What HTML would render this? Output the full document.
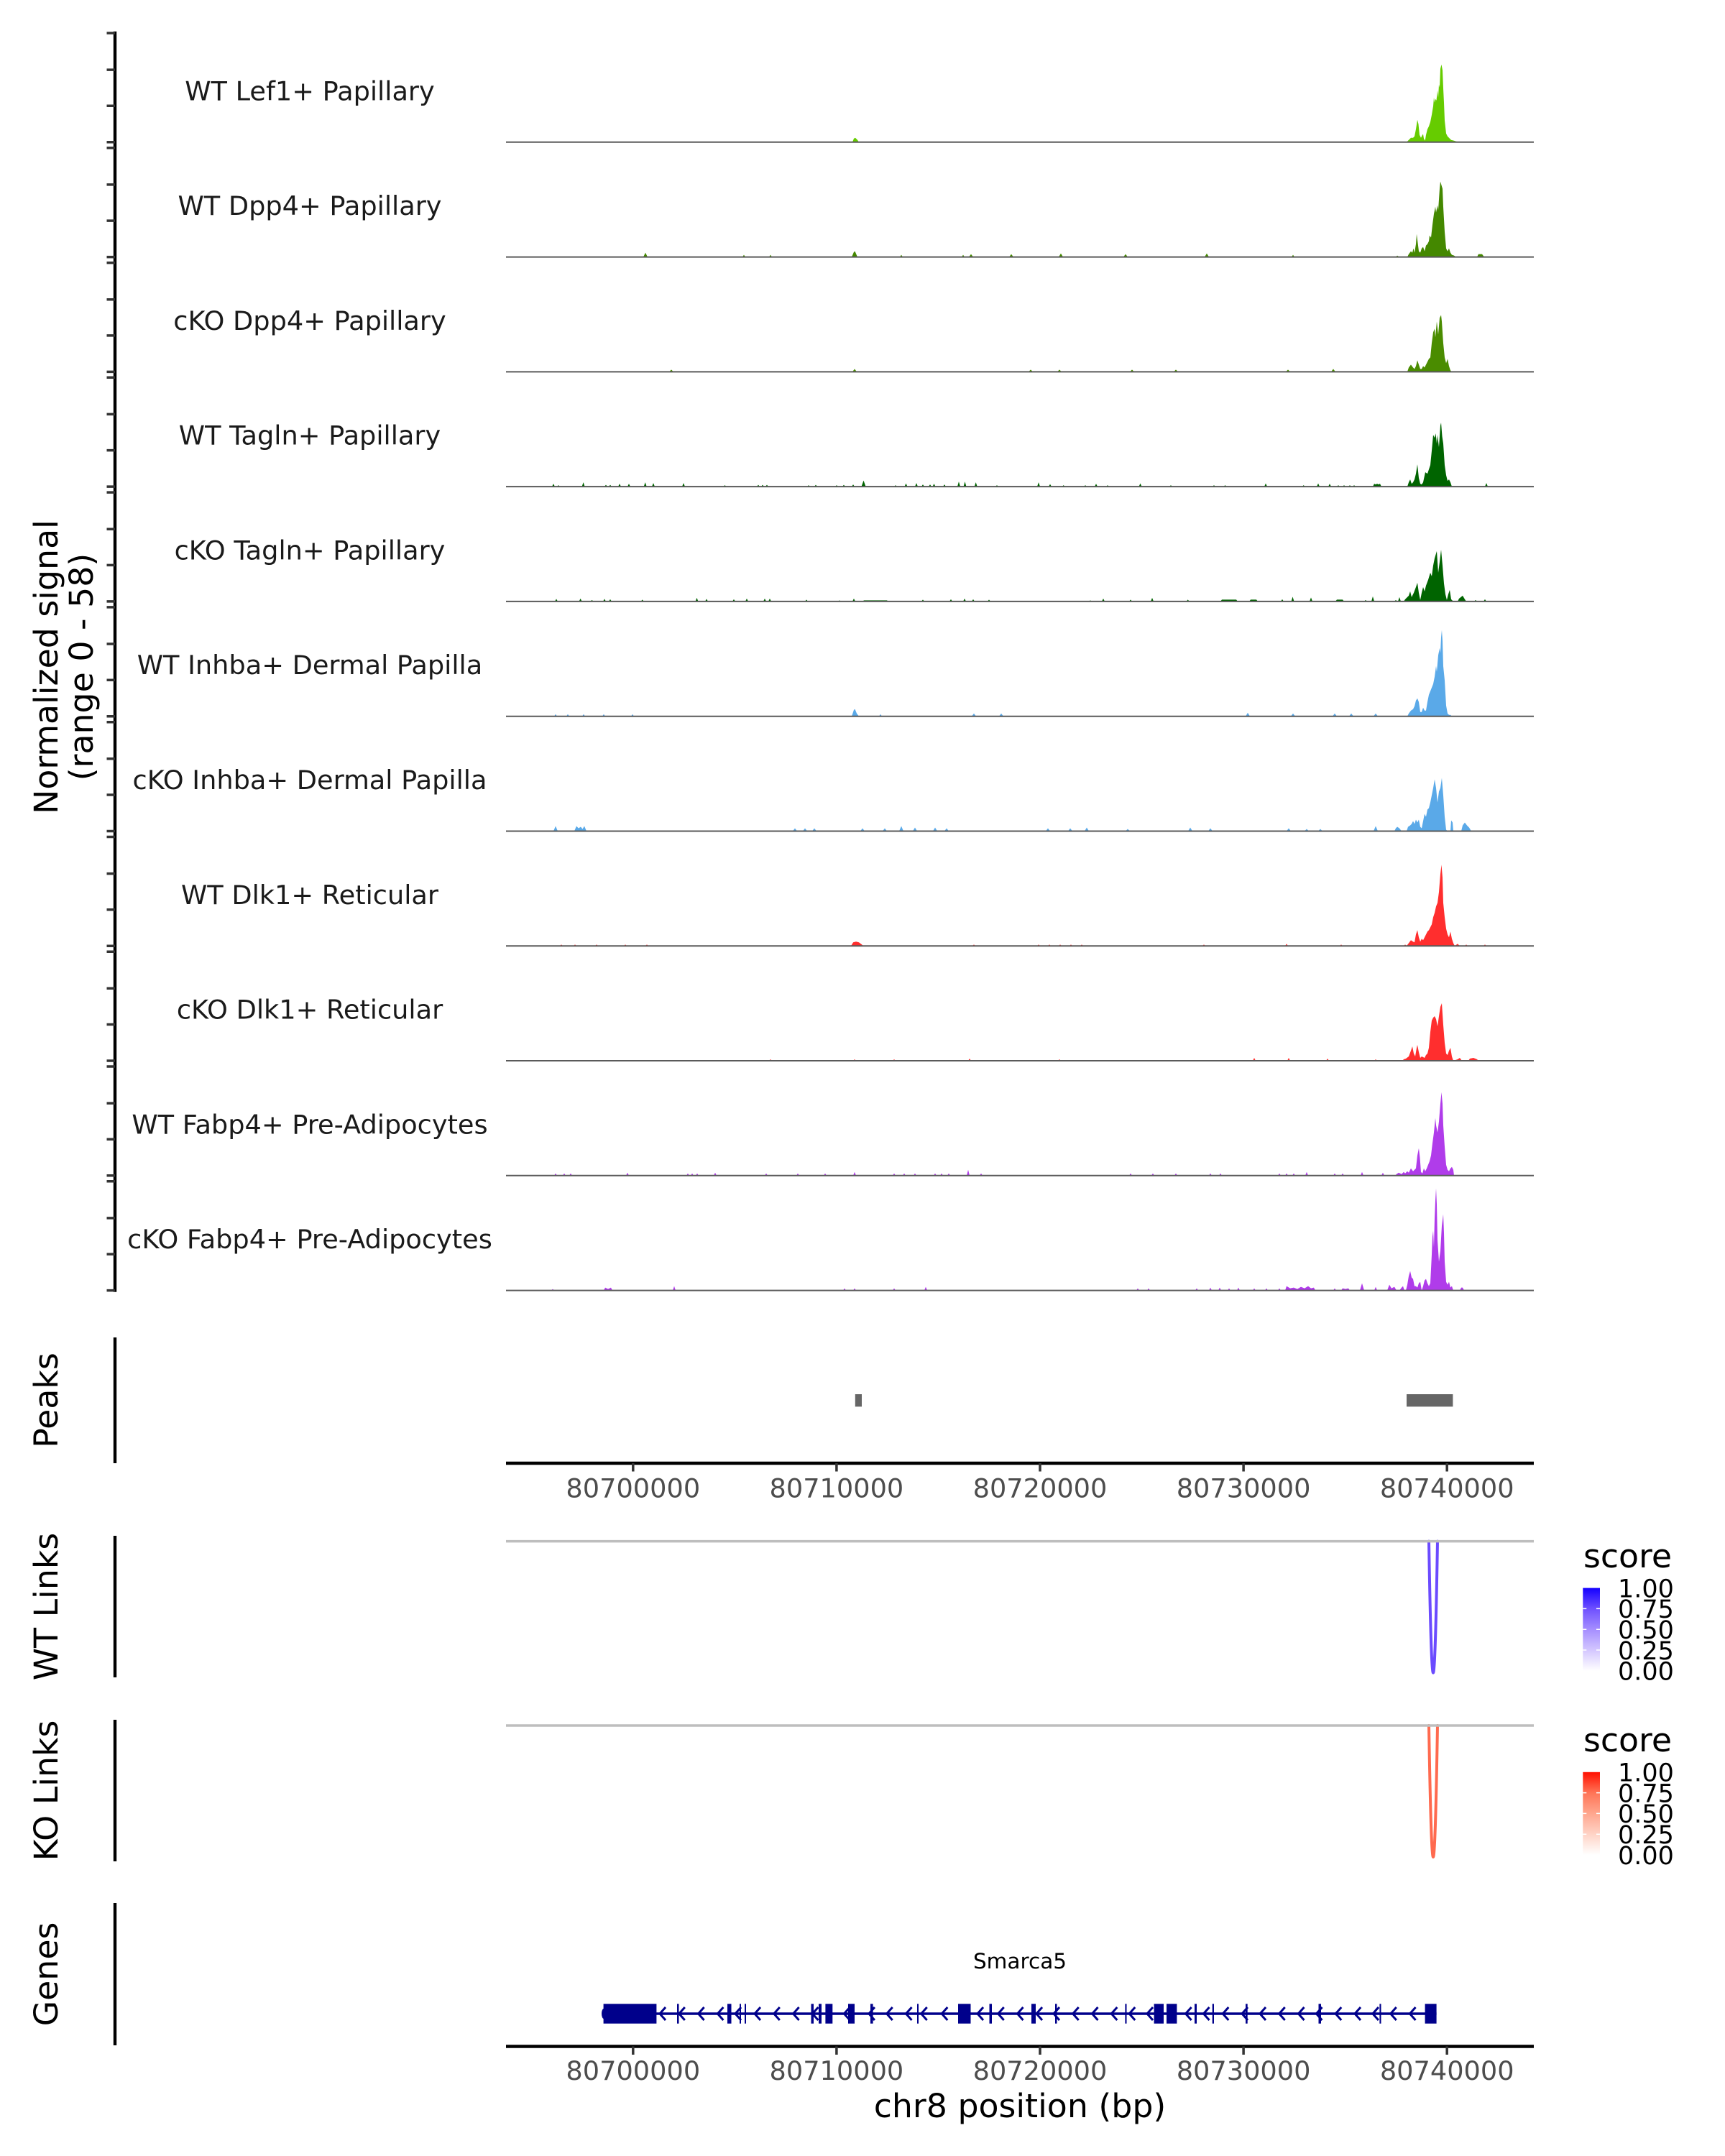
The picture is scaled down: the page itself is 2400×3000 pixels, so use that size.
<!DOCTYPE html>
<html>
<head>
<meta charset="utf-8">
<style>
html,body{margin:0;padding:0;background:#fff;}
svg{display:block;}
</style>
</head>
<body>
<svg width="2400" height="3000" viewBox="0 0 2400 3000" xmlns="http://www.w3.org/2000/svg" font-family="'DejaVu Sans','Liberation Sans',sans-serif">
<rect width="2400" height="3000" fill="#ffffff"/>

<!-- Left axis for signal tracks -->
<line x1="160" y1="43.8" x2="160" y2="1797.8" stroke="#000" stroke-width="4.4"/>

<!-- Y axis title -->
<text transform="translate(80,928) rotate(-90)" text-anchor="middle" font-size="45.8" fill="#000">Normalized signal</text>
<text transform="translate(129,928) rotate(-90)" text-anchor="middle" font-size="45.8" fill="#000">(range 0 - 58)</text>

<!-- Track 0: WT Lef1+ Papillary -->
<g transform="translate(0,197.8)">
<path d="M148.5,0H160M148.5,-50.5H160M148.5,-100.7H160M148.5,-151.8H160" stroke="#333" stroke-width="3.5"/>
<text x="431" y="-58.5" text-anchor="middle" font-size="36.7" fill="#1a1a1a">WT Lef1+ Papillary</text>
<path fill="#66CC00" d="M704,0 L1186,0 L1188,-5 L1190,-6 L1193,-3 L1195,0 L1956,0 L1958,-1 L1961,-4 L1963,-6 L1966,-6 L1968,-8 L1970,-18 L1972,-31 L1973.5,-25 L1975,-10 L1977,-6 L1979,-10 L1980,-11 L1981,-5 L1982.7,-2 L1984,-10 L1986,-18 L1988,-22 L1990,-28 L1992,-38 L1994,-50 L1995,-62 L1996,-55 L1997,-60 L1998.5,-58 L2000,-72 L2001,-62 L2002,-80 L2003,-76 L2004,-102 L2005.5,-108 L2007,-100 L2008,-75 L2009,-55 L2010,-30 L2012,-12 L2014,-8 L2016,-6 L2019,-3 L2023,-2 L2026,-1 L2030,0 L2134,0 Z"/>
<line x1="704" y1="0" x2="2134" y2="0" stroke="#5a5a5a" stroke-width="2"/>
</g>

<!-- Track 1: WT Dpp4+ Papillary -->
<g transform="translate(0,357.6)">
<path d="M148.5,0H160M148.5,-50.5H160M148.5,-100.7H160M148.5,-151.8H160" stroke="#333" stroke-width="3.5"/>
<text x="431" y="-58.5" text-anchor="middle" font-size="36.7" fill="#1a1a1a">WT Dpp4+ Papillary</text>
<path fill="#448800" d="M704,0 L895,0 L898,-6 L901,0 L1033,0 L1035,-3 L1037,0 L1070,0 L1072,-3 L1074,0 L1185,0 L1188,-7 L1189.5,-8 L1193,0 L1252,0 L1254,-3 L1256,0 L1338,0 L1340,-3 L1342,0 L1348,0 L1351,-4 L1354,0 L1404,0 L1407,-4 L1410,0 L1473,0 L1476,-5 L1479,0 L1563,0 L1566,-4 L1569,0 L1676,0 L1679,-5 L1682,0 L1797,0 L1799,-3 L1801,0 L1942,0 L1944,-2 L1947,0 L1958,0 L1960,-4 L1963,-8 L1965,-6 L1966.5,-12 L1968,-6 L1970,-18 L1971,-32 L1972.5,-20 L1974,-8 L1976,-6 L1978,-12 L1980,-14 L1982,-8 L1984,-16 L1986,-18 L1988,-22 L1989,-30 L1991,-27 L1993,-45 L1995,-60 L1997,-70 L1998,-62 L2000,-72 L2001,-65 L2003,-95 L2004,-105 L2005.5,-100 L2007,-95 L2008,-70 L2010,-35 L2012,-12 L2014,-8 L2016,-12 L2018,-6 L2020,-3 L2023,-2 L2026,0 L2055,0 L2057,-4 L2062,-4 L2065,0 L2134,0 Z"/>
<line x1="704" y1="0" x2="2134" y2="0" stroke="#5a5a5a" stroke-width="2"/>
</g>

<!-- Track 2: cKO Dpp4+ Papillary -->
<g transform="translate(0,517.4)">
<path d="M148.5,0H160M148.5,-50.5H160M148.5,-100.7H160M148.5,-151.8H160" stroke="#333" stroke-width="3.5"/>
<text x="431" y="-58.5" text-anchor="middle" font-size="36.7" fill="#1a1a1a">cKO Dpp4+ Papillary</text>
<path fill="#4A8C00" d="M704,0 L931,0 L934,-3 L937,0 L1186,0 L1189,-4 L1192,0 L1431,0 L1434,-3 L1437,0 L1471,0 L1474,-3 L1477,0 L1572,0 L1575,-3 L1578,0 L1633,0 L1636,-3 L1639,0 L1789,0 L1792,-3 L1795,0 L1852,0 L1855,-4 L1858,0 L1958,0 L1960,-6 L1963,-10 L1966,-6 L1968,-4 L1970,-8 L1972,-16 L1974,-10 L1976,-4 L1978,-4 L1980,-8 L1982,-6 L1985,-12 L1988,-18 L1990,-20 L1992,-40 L1994,-55 L1996,-60 L1997,-48 L1999,-70 L2001,-52 L2003,-75 L2005,-79 L2006,-70 L2008,-40 L2010,-20 L2012,-12 L2014,-18 L2016,-8 L2018,-2 L2020,0 L2134,0 Z"/>
<line x1="704" y1="0" x2="2134" y2="0" stroke="#5a5a5a" stroke-width="2"/>
</g>

<!-- Track 3: WT Tagln+ Papillary -->
<g transform="translate(0,677.1)">
<path d="M148.5,0H160M148.5,-50.5H160M148.5,-100.7H160M148.5,-151.8H160" stroke="#333" stroke-width="3.5"/>
<text x="431" y="-58.5" text-anchor="middle" font-size="36.7" fill="#1a1a1a">WT Tagln+ Papillary</text>
<path fill="#006400" d="M704,0 L768,0 L770,-4 L772,0 L775,0 L777,-2 L779,0 L809.6,0 L811.6,-6 L813.6,0 L841,0 L843,-2.5 L845,0 L847,0 L849,-2.5 L851,0 L860,0 L862,-4 L864,0 L873,0 L875,-4 L877,0 L895.7,0 L897.7,-6 L899.7,0 L907,0 L909,-5 L911,0 L949,0 L951,-5 L953,0 L1006.5,0 L1008.5,-2 L1010.5,0 L1053,0 L1055,-2.5 L1057,0 L1059,0 L1061,-2.5 L1063,0 L1065,0 L1067,-2.5 L1069,0 L1123,0 L1125,-2 L1127,0 L1133,0 L1135,-2.5 L1137,0 L1162,0 L1164,-2 L1166,0 L1172,0 L1174,-2.5 L1176,0 L1185,0 L1187,-3 L1189,0 L1198.5,0 L1201.5,-8.5 L1204.5,0 L1244,0 L1246,-2 L1248,0 L1258.5,0 L1260.5,-4.5 L1262.5,0 L1273,0 L1275,-5 L1277,0 L1282,0 L1284,-3 L1286,0 L1292,0 L1294,-3 L1296,0 L1297.5,0 L1299.5,-4 L1301.5,0 L1312,0 L1314,-3 L1316,0 L1332,0 L1334,-7 L1336,0 L1340.5,0 L1342.5,-7 L1344.5,0 L1355.7,0 L1357.7,-6 L1359.7,0 L1385,0 L1387,-2 L1389,0 L1443,0 L1445,-6 L1447,0 L1459,0 L1461,-3.5 L1463,0 L1477.7,0 L1479.7,-2 L1481.7,0 L1508,0 L1510,-2 L1512,0 L1523,0 L1525,-4 L1527,0 L1539,0 L1541,-2 L1543,0 L1584.5,0 L1586.5,-4.5 L1588.5,0 L1627,0 L1629,-2 L1631,0 L1687,0 L1689,-2 L1691,0 L1702.5,0 L1704.5,-2 L1706.5,0 L1759,0 L1761,-4.5 L1763,0 L1811.7,0 L1813.7,-2 L1815.7,0 L1832,0 L1834,-4.5 L1836,0 L1848,0 L1850,-4 L1852,0 L1860,0 L1862,-2 L1864,0 L1868,0 L1870,-2 L1872,0 L1876,0 L1878,-2 L1880,0 L1882,0 L1884,-2 L1886,0 L1910,0 L1912,-4 L1914,-3 L1916,-4 L1918,-3 L1920,-4 L1922,0 L1958,0 L1960,-6 L1962,-10 L1964,-4 L1966,-6 L1968,-10 L1970,-18 L1972,-31 L1974,-12 L1976,-4 L1978,-3 L1980,-6 L1983,-20 L1986,-18 L1988,-24 L1990,-30 L1992,-50 L1994,-72 L1996,-68 L1997.5,-74 L1999,-60 L2000,-72 L2002,-55 L2004,-85 L2005,-89 L2006.5,-70 L2008,-60 L2010,-30 L2012,-16 L2014,-8 L2016,-10 L2018,-6 L2020,0 L2066,0 L2068,-5 L2070,0 L2134,0 Z"/>
<line x1="704" y1="0" x2="2134" y2="0" stroke="#5a5a5a" stroke-width="2"/>
</g>

<!-- Track 4: cKO Tagln+ Papillary -->
<g transform="translate(0,836.9)">
<path d="M148.5,0H160M148.5,-50.5H160M148.5,-100.7H160M148.5,-151.8H160" stroke="#333" stroke-width="3.5"/>
<text x="431" y="-58.5" text-anchor="middle" font-size="36.7" fill="#1a1a1a">cKO Tagln+ Papillary</text>
<path fill="#006400" d="M704,0 L772,0 L774,-3.5 L776,0 L805.6,0 L807.6,-4 L809.6,0 L821.6,0 L823.6,-2 L825.6,0 L839,0 L841,-3.5 L843,0 L847,0 L849,-3 L851,0 L891.7,0 L893.7,-2.5 L895.7,0 L967.5,0 L969.5,-5 L971.5,0 L981,0 L983,-3.5 L985,0 L1019,0 L1021,-3 L1023,0 L1037,0 L1039,-4 L1041,0 L1062,0 L1064,-4 L1066,0 L1069,0 L1071,-4 L1073,0 L1120,0 L1122,-2.5 L1124,0 L1166,0 L1168,-1.5 L1170,0 L1186,0 L1188,-4 L1190,0 L1200,0 L1202,-1.5 L1206,-1.5 L1210,-1.5 L1214,-1.5 L1218,-1.5 L1222,-1.5 L1226,-1.5 L1230,-1.5 L1234,-1.5 L1236,0 L1282,0 L1284,-2.5 L1286,0 L1321,0 L1323,-3 L1325,0 L1340,0 L1342,-4 L1344,0 L1352,0 L1354,-3 L1356,0 L1374,0 L1376,-2.5 L1378,0 L1515,0 L1517,-1.5 L1519,0 L1533,0 L1535,-4 L1537,0 L1571,0 L1573,-2.5 L1575,0 L1601,0 L1603,-5 L1605,0 L1650.7,0 L1652.7,-2.5 L1654.7,0 L1698,0 L1700,-2.5 L1710,-2.5 L1720,-2.5 L1722,0 L1738,0 L1740,-2.5 L1748,-2.5 L1750,0 L1782,0 L1784,-3 L1786,0 L1796.5,0 L1798.5,-6.5 L1800.5,0 L1822,0 L1824,-5.5 L1826,0 L1858,0 L1860,-2.5 L1868,-2.5 L1870,0 L1898,0 L1900,-2 L1902,0 L1908,0 L1910,-7 L1912,0 L1940,0 L1942,-2 L1944,0 L1945,0 L1947,-6 L1949,0 L1953,0 L1955,-3 L1960,-8 L1962,-14 L1964,-6 L1967,-12 L1970,-20 L1972,-26 L1974,-12 L1976,-2 L1978,-12 L1980,-20 L1982,-14 L1984,-22 L1987,-30 L1990,-40 L1992,-35 L1994,-50 L1996,-60 L1999,-70 L2001,-40 L2003,-55 L2005,-72 L2007,-50 L2009,-25 L2011,-10 L2013,-2 L2015,-10 L2017,-16 L2019,-3 L2022,0 L2028,0 L2030,-4 L2035,-8 L2038,-3 L2040,0 L2051,0 L2053,-2 L2055,0 L2064,0 L2066,-3 L2068,0 L2134,0 Z"/>
<line x1="704" y1="0" x2="2134" y2="0" stroke="#5a5a5a" stroke-width="2"/>
</g>

<!-- Track 5: WT Inhba+ Dermal Papilla -->
<g transform="translate(0,996.7)">
<path d="M148.5,0H160M148.5,-50.5H160M148.5,-100.7H160M148.5,-151.8H160" stroke="#333" stroke-width="3.5"/>
<text x="431" y="-58.5" text-anchor="middle" font-size="36.7" fill="#1a1a1a">WT Inhba+ Dermal Papilla</text>
<path fill="#5AA9E8" d="M704,0 L771,0 L773,-3 L775,0 L788,0 L790,-3 L792,0 L810,0 L812,-3 L814,0 L838,0 L840,-3 L842,0 L878,0 L880,-3 L882,0 L1185,0 L1188,-9 L1189.5,-10 L1192,-4 L1195,0 L1223,0 L1225,-3 L1227,0 L1352,0 L1355,-4 L1358,0 L1390,0 L1393,-4 L1396,0 L1733,0 L1736,-5 L1739,0 L1796,0 L1799,-4 L1802,0 L1854,0 L1857,-4 L1860,0 L1877,0 L1880,-4 L1883,0 L1911,0 L1914,-4 L1917,0 L1958,0 L1960,-4 L1963,-8 L1966,-10 L1968,-14 L1970,-22 L1972,-25 L1974,-20 L1976,-6 L1978,-6 L1980,-12 L1982,-8 L1984,-8 L1986,-20 L1988,-30 L1990,-35 L1992,-40 L1994,-45 L1996,-55 L1998,-70 L1999,-62 L2001,-85 L2003,-95 L2004,-88 L2005,-110 L2006,-120 L2007,-105 L2008,-70 L2010,-50 L2012,-15 L2014,-4 L2016,-2 L2018,-2 L2020,0 L2134,0 Z"/>
<line x1="704" y1="0" x2="2134" y2="0" stroke="#5a5a5a" stroke-width="2"/>
</g>

<!-- Track 6: cKO Inhba+ Dermal Papilla -->
<g transform="translate(0,1156.5)">
<path d="M148.5,0H160M148.5,-50.5H160M148.5,-100.7H160M148.5,-151.8H160" stroke="#333" stroke-width="3.5"/>
<text x="431" y="-58.5" text-anchor="middle" font-size="36.7" fill="#1a1a1a">cKO Inhba+ Dermal Papilla</text>
<path fill="#5AA9E8" d="M704,0 L770,0 L773,-7 L776,0 L799,0 L802,-7 L805,-4 L808,-6 L810.5,-3 L813,-7 L816,0 L1103,0 L1106,-4 L1109,0 L1117,0 L1120,-4 L1123,0 L1130,0 L1133,-4 L1136,0 L1197,0 L1200,-4 L1203,0 L1228,0 L1231,-4 L1234,0 L1251,0 L1254,-7 L1257,0 L1270,0 L1273,-5 L1276,0 L1298,0 L1301,-5 L1304,0 L1314,0 L1317,-4 L1320,0 L1455,0 L1458,-4 L1461,0 L1486,0 L1489,-4 L1492,0 L1509,0 L1512,-5 L1515,0 L1566,0 L1569,-3 L1572,0 L1653,0 L1656,-5 L1659,0 L1681,0 L1684,-4 L1687,0 L1790,0 L1793,-4 L1796,0 L1815,0 L1818,-3 L1821,0 L1834,0 L1837,-3 L1840,0 L1911,0 L1914,-7 L1917,0 L1940,0 L1942,-4 L1944,-6 L1947,-4 L1950,0 L1957,0 L1959,-6 L1962,-8 L1964,-10 L1966,-14 L1968,-10 L1970,-16 L1972,-12 L1974,-16 L1976,-6 L1978,-4 L1980,-14 L1982,-24 L1984,-20 L1986,-30 L1988,-32 L1990,-40 L1992,-50 L1994,-60 L1996,-72 L1998,-60 L2000,-40 L2002,-55 L2004,-60 L2006,-74 L2008,-50 L2010,-20 L2012,-2 L2014,0 L2018,0 L2019,-15 L2021,-12 L2022,0 L2033,0 L2035,-8 L2038,-12 L2041,-8 L2044,-5 L2047,0 L2134,0 Z"/>
<line x1="704" y1="0" x2="2134" y2="0" stroke="#5a5a5a" stroke-width="2"/>
</g>

<!-- Track 7: WT Dlk1+ Reticular -->
<g transform="translate(0,1316.3)">
<path d="M148.5,0H160M148.5,-50.5H160M148.5,-100.7H160M148.5,-151.8H160" stroke="#333" stroke-width="3.5"/>
<text x="431" y="-58.5" text-anchor="middle" font-size="36.7" fill="#1a1a1a">WT Dlk1+ Reticular</text>
<path fill="#FF2E2E" d="M704,0 L779,0 L781,-2 L783,0 L798,0 L800,-2 L802,0 L828,0 L830,-2 L832,0 L868,0 L870,-2 L872,0 L898,0 L900,-2 L902,0 L1184,0 L1187,-5 L1191,-6 L1195,-5 L1199,-2 L1201,0 L1353,0 L1355,-2 L1357,0 L1443,0 L1445,-2 L1447,0 L1458,0 L1460,-2 L1462,0 L1473,0 L1475,-2 L1477,0 L1488,0 L1490,-2 L1492,0 L1503,0 L1505,-2 L1507,0 L1673,0 L1675,-2 L1677,0 L1788,0 L1790,-3 L1792,0 L1864,0 L1866,-2 L1868,0 L1953,0 L1955,-2 L1957,0 L1960,-4 L1963,-8 L1966,-6 L1968,-5 L1970,-16 L1972,-22 L1974,-12 L1976,-6 L1978,-10 L1980,-8 L1982,-12 L1984,-16 L1986,-20 L1988,-22 L1990,-26 L1992,-30 L1994,-40 L1996,-46 L1998,-55 L2000,-60 L2002,-75 L2004,-100 L2005.5,-113 L2007,-95 L2008,-60 L2010,-40 L2012,-24 L2014,-16 L2016,-12 L2018,-20 L2020,-10 L2022,-4 L2024,0 L2028,-3 L2031,0 L2038,0 L2040,-2 L2042,0 L2064,0 L2066,-2 L2068,0 L2134,0 Z"/>
<line x1="704" y1="0" x2="2134" y2="0" stroke="#5a5a5a" stroke-width="2"/>
</g>

<!-- Track 8: cKO Dlk1+ Reticular -->
<g transform="translate(0,1476)">
<path d="M148.5,0H160M148.5,-50.5H160M148.5,-100.7H160M148.5,-151.8H160" stroke="#333" stroke-width="3.5"/>
<text x="431" y="-58.5" text-anchor="middle" font-size="36.7" fill="#1a1a1a">cKO Dlk1+ Reticular</text>
<path fill="#FF2E2E" d="M704,0 L1070,0 L1072,-2 L1074,0 L1187,0 L1189,-2 L1191,0 L1242,0 L1244,-2 L1246,0 L1347,0 L1349,-3 L1351,0 L1472,0 L1474,-2 L1476,0 L1743,0 L1745,-4 L1747,0 L1791,0 L1793,-4 L1795,0 L1845,0 L1847,-3 L1849,0 L1912,0 L1914,-2 L1916,0 L1951,0 L1953,-2 L1956,-3 L1960,-6 L1963,-14 L1965,-20 L1967,-10 L1969,-6 L1971,-18 L1972,-22 L1974,-12 L1976,-4 L1978,-6 L1980,-5 L1982,-4 L1984,-8 L1986,-10 L1988,-18 L1990,-40 L1992,-56 L1994,-60 L1996,-62 L1998,-58 L2000,-48 L2002,-62 L2004,-75 L2006,-80 L2008,-50 L2010,-25 L2012,-10 L2014,-8 L2016,-14 L2018,-18 L2020,-6 L2022,0 L2028,-2 L2031,-4 L2034,0 L2043,0 L2045,-3 L2050,-4 L2055,-2 L2057,0 L2134,0 Z"/>
<line x1="704" y1="0" x2="2134" y2="0" stroke="#5a5a5a" stroke-width="2"/>
</g>

<!-- Track 9: WT Fabp4+ Pre-Adipocytes -->
<g transform="translate(0,1635.8)">
<path d="M148.5,0H160M148.5,-50.5H160M148.5,-100.7H160M148.5,-151.8H160" stroke="#333" stroke-width="3.5"/>
<text x="431" y="-58.5" text-anchor="middle" font-size="36.7" fill="#1a1a1a">WT Fabp4+ Pre-Adipocytes</text>
<path fill="#B03CEA" d="M704,0 L771,0 L773,-3 L775,0 L783,0 L785,-3 L787,0 L792,0 L794,-3 L796,0 L871,0 L873,-4 L875,0 L955,0 L957,-3 L959,0 L961,0 L963,-3 L965,0 L968,0 L970,-3 L972,0 L993,0 L995,-4 L997,0 L1064,0 L1066,-3 L1068,0 L1108,0 L1110,-3 L1112,0 L1146,0 L1148,-3 L1150,0 L1187,0 L1189,-5 L1191,0 L1242,0 L1244,-3 L1246,0 L1256,0 L1258,-3 L1260,0 L1271,0 L1273,-3 L1275,0 L1299,0 L1301,-3 L1303,0 L1308,0 L1310,-3 L1312,0 L1318,0 L1320,-3 L1322,0 L1345,0 L1347,-8 L1349,0 L1363,0 L1365,-3 L1367,0 L1571,0 L1573,-3 L1575,0 L1602,0 L1604,-3 L1606,0 L1634,0 L1636,-3 L1638,0 L1682,0 L1684,-3 L1686,0 L1696,0 L1698,-3 L1700,0 L1778,0 L1780,-3 L1782,0 L1788,0 L1790,-3 L1792,0 L1798,0 L1800,-3 L1802,0 L1816,0 L1818,-5 L1820,0 L1855,0 L1857,-3 L1859,0 L1866,0 L1868,-3 L1870,0 L1893,0 L1895,-5 L1897,0 L1922,0 L1924,-4 L1926,0 L1941,0 L1943,-2 L1946,-4 L1950,-2 L1953,-5 L1955,-3 L1958,-6 L1960,-4 L1963,-10 L1966,-6 L1970,-10 L1972,-28 L1974,-38 L1975.5,-25 L1977,-5 L1979,-3 L1981,-10 L1983,-6 L1985,-10 L1987,-15 L1989,-20 L1991,-28 L1993,-45 L1995,-60 L1997,-80 L1998,-70 L2000,-60 L2002,-75 L2004,-100 L2005.5,-116 L2007,-100 L2008,-70 L2010,-40 L2012,-15 L2014,-8 L2016,-6 L2018,-10 L2020,-12 L2022,-8 L2023,0 L2134,0 Z"/>
<line x1="704" y1="0" x2="2134" y2="0" stroke="#5a5a5a" stroke-width="2"/>
</g>

<!-- Track 10: cKO Fabp4+ Pre-Adipocytes -->
<g transform="translate(0,1795.6)">
<path d="M148.5,0H160M148.5,-50.5H160M148.5,-100.7H160M148.5,-151.8H160" stroke="#333" stroke-width="3.5"/>
<text x="431" y="-58.5" text-anchor="middle" font-size="36.7" fill="#1a1a1a">cKO Fabp4+ Pre-Adipocytes</text>
<path fill="#B03CEA" d="M704,0 L767,0 L769,-2 L771,0 L840,0 L842,-4 L846,-2 L850,-4 L852,0 L936,0 L938,-6 L940,0 L1173,0 L1175,-3 L1177,0 L1187,0 L1189,-3 L1191,0 L1242,0 L1244,-3 L1246,0 L1286,0 L1288,-5 L1290,0 L1581,0 L1583,-3 L1585,0 L1596,0 L1598,-3 L1600,0 L1663,0 L1665,-3 L1667,0 L1682,0 L1684,-4 L1686,0 L1695,0 L1697,-4 L1699,0 L1708,0 L1710,-3 L1712,0 L1721,0 L1723,-4 L1725,0 L1743,0 L1745,-3 L1747,0 L1760,0 L1762,-3 L1764,0 L1778,0 L1780,-3 L1782,0 L1788,0 L1790,-6 L1795,-3 L1800,-4 L1805,-2 L1810,-5 L1815,-3 L1820,-6 L1824,-3 L1828,-4 L1830,0 L1855,0 L1857,-3 L1859,0 L1866,0 L1868,-3 L1872,-2 L1876,-3 L1878,0 L1892,0 L1895,-10 L1898,0 L1912,0 L1914,-5 L1916,0 L1930,0 L1933,-8 L1936,-3 L1940,-5 L1943,0 L1947,0 L1950,-4 L1952,-6 L1954,0 L1956,0 L1958,-8 L1960,-20 L1962,-27 L1964,-18 L1966,-16 L1968,-6 L1970,-6 L1972,-4 L1974,-10 L1976,-12 L1978,0 L1980,-6 L1982,-14 L1984,-16 L1986,-10 L1988,-6 L1990,-10 L1992,-50 L1993,-75 L1994,-83 L1995,-60 L1996,-100 L1997,-125 L1998,-142 L1999,-120 L2000,-70 L2002,-40 L2004,-55 L2006,-90 L2008,-106 L2009,-80 L2010,-40 L2012,-12 L2014,-8 L2016,-12 L2018,-4 L2020,-6 L2022,0 L2031,0 L2033,-4 L2035,-4 L2037,0 L2134,0 Z"/>
<line x1="704" y1="0" x2="2134" y2="0" stroke="#5a5a5a" stroke-width="2"/>
</g>

<!-- ===== Peaks panel ===== -->
<line x1="160" y1="1861" x2="160" y2="2036" stroke="#000" stroke-width="4.4"/>
<text transform="translate(80,1948.5) rotate(-90)" text-anchor="middle" font-size="45.8" fill="#000">Peaks</text>
<rect x="1189.8" y="1940" width="9.2" height="17.3" fill="#666666"/>
<rect x="1957" y="1940" width="64.4" height="17.3" fill="#666666"/>
<line x1="704" y1="2036" x2="2134" y2="2036" stroke="#000" stroke-width="4.4"/>
<path d="M880.8,2036V2047.5M1163.9,2036V2047.5M1447,2036V2047.5M1730.1,2036V2047.5M2013.2,2036V2047.5" stroke="#333" stroke-width="3.5"/>
<g font-size="36.7" fill="#4d4d4d" text-anchor="middle">
<text x="880.8" y="2083.5">80700000</text>
<text x="1163.9" y="2083.5">80710000</text>
<text x="1447" y="2083.5">80720000</text>
<text x="1730.1" y="2083.5">80730000</text>
<text x="2013.2" y="2083.5">80740000</text>
</g>

<!-- ===== WT Links panel ===== -->
<line x1="160" y1="2137" x2="160" y2="2334" stroke="#000" stroke-width="4.4"/>
<text transform="translate(80,2235.5) rotate(-90)" text-anchor="middle" font-size="45.8" fill="#000">WT Links</text>
<path d="M1988,2144.6 Q1994,2510.6 2000,2144.6" fill="none" stroke="#6B4BFF" stroke-width="4" stroke-linecap="round"/>
<line x1="704" y1="2144.6" x2="2134" y2="2144.6" stroke="#BEBEBE" stroke-width="3.5"/>

<defs>
<linearGradient id="gblue" x1="0" y1="1" x2="0" y2="0">
<stop offset="0" stop-color="#FFFFFF"/>
<stop offset="0.25" stop-color="#D3C6FF"/>
<stop offset="0.5" stop-color="#A58EFF"/>
<stop offset="0.75" stop-color="#6E50FF"/>
<stop offset="1" stop-color="#1400FF"/>
</linearGradient>
<linearGradient id="gred" x1="0" y1="1" x2="0" y2="0">
<stop offset="0" stop-color="#FFFFFF"/>
<stop offset="0.25" stop-color="#FFD3C6"/>
<stop offset="0.5" stop-color="#FFA68E"/>
<stop offset="0.75" stop-color="#FF7456"/>
<stop offset="1" stop-color="#FF1000"/>
</linearGradient>
</defs>

<!-- WT legend -->
<text x="2203" y="2181" font-size="45.8" fill="#000">score</text>
<rect x="2202.3" y="2209.6" width="23.7" height="115.2" fill="url(#gblue)"/>
<path d="M2202.3,2238.4h5M2221,2238.4h5M2202.3,2267.2h5M2221,2267.2h5M2202.3,2296h5M2221,2296h5" stroke="#fff" stroke-width="1.5"/>
<g font-size="35" fill="#000">
<text x="2251" y="2222.4">1.00</text>
<text x="2251" y="2251.2">0.75</text>
<text x="2251" y="2280">0.50</text>
<text x="2251" y="2308.8">0.25</text>
<text x="2251" y="2337.6">0.00</text>
</g>

<!-- ===== KO Links panel ===== -->
<line x1="160" y1="2393" x2="160" y2="2590" stroke="#000" stroke-width="4.4"/>
<text transform="translate(80,2491.5) rotate(-90)" text-anchor="middle" font-size="45.8" fill="#000">KO Links</text>
<path d="M1988,2401 Q1994,2767 2000,2401" fill="none" stroke="#FF6A4F" stroke-width="4" stroke-linecap="round"/>
<line x1="704" y1="2401" x2="2134" y2="2401" stroke="#BEBEBE" stroke-width="3.5"/>

<!-- KO legend -->
<text x="2203" y="2437.2" font-size="45.8" fill="#000">score</text>
<rect x="2202.3" y="2465.8" width="23.7" height="115.2" fill="url(#gred)"/>
<path d="M2202.3,2494.6h5M2221,2494.6h5M2202.3,2523.4h5M2221,2523.4h5M2202.3,2552.2h5M2221,2552.2h5" stroke="#fff" stroke-width="1.5"/>
<g font-size="35" fill="#000">
<text x="2251" y="2478.6">1.00</text>
<text x="2251" y="2507.4">0.75</text>
<text x="2251" y="2536.2">0.50</text>
<text x="2251" y="2565">0.25</text>
<text x="2251" y="2593.8">0.00</text>
</g>

<!-- ===== Genes panel ===== -->
<line x1="160" y1="2648" x2="160" y2="2846" stroke="#000" stroke-width="4.4"/>
<text transform="translate(80,2747) rotate(-90)" text-anchor="middle" font-size="45.8" fill="#000">Genes</text>
<text x="1419" y="2739" text-anchor="middle" font-size="29.5" fill="#000">Smarca5</text>

<g fill="#00008B">
<line x1="839.6" y1="2802" x2="1998.6" y2="2802" stroke="#00008B" stroke-width="3.5"/>
<rect x="839.6" y="2788.3" width="73.8" height="27.4"/>
<ellipse cx="840" cy="2802" rx="3" ry="7"/>
<rect x="942" y="2788.3" width="2.5" height="27.4"/>
<rect x="1012" y="2788.3" width="5.5" height="27.4"/>
<rect x="1029" y="2788.3" width="2" height="27.4"/>
<rect x="1036" y="2788.3" width="2" height="27.4"/>
<rect x="1128.5" y="2788.3" width="3.5" height="27.4"/>
<rect x="1139" y="2788.3" width="4" height="27.4"/>
<rect x="1148.4" y="2788.3" width="9.9" height="27.4"/>
<rect x="1180" y="2788.3" width="9" height="27.4"/>
<rect x="1211" y="2788.3" width="3.6" height="27.4"/>
<rect x="1276" y="2788.3" width="2" height="27.4"/>
<rect x="1333" y="2788.3" width="17.5" height="27.4"/>
<rect x="1376.5" y="2788.3" width="3.5" height="27.4"/>
<rect x="1435" y="2788.3" width="6" height="27.4"/>
<rect x="1468" y="2788.3" width="2.5" height="27.4"/>
<rect x="1565.4" y="2788.3" width="2.1" height="27.4"/>
<rect x="1605.6" y="2788.3" width="13.4" height="27.4"/>
<rect x="1623" y="2788.3" width="14.4" height="27.4"/>
<rect x="1662" y="2788.3" width="3" height="27.4"/>
<rect x="1686.7" y="2788.3" width="2.3" height="27.4"/>
<rect x="1733" y="2788.3" width="2.7" height="27.4"/>
<rect x="1834.5" y="2788.3" width="3.5" height="27.4"/>
<rect x="1919.4" y="2788.3" width="2.1" height="27.4"/>
<rect x="1982.6" y="2788.3" width="16" height="27.4"/>
</g>
<path fill="none" stroke="#00008B" stroke-width="3" d="
M926,2793L918,2802L926,2811
M952.8,2793L944.8,2802L952.8,2811
M979.6,2793L971.6,2802L979.6,2811
M1006.4,2793L998.4,2802L1006.4,2811
M1031,2793L1023,2802L1031,2811
M1058,2793L1050,2802L1058,2811
M1084.8,2793L1076.8,2802L1084.8,2811
M1111.6,2793L1103.6,2802L1111.6,2811
M1138.4,2793L1130.4,2802L1138.4,2811
M1182.4,2793L1174.4,2802L1182.4,2811
M1216.9,2793L1208.9,2802L1216.9,2811
M1241.7,2793L1233.7,2802L1241.7,2811
M1268.5,2793L1260.5,2802L1268.5,2811
M1289.7,2793L1281.7,2802L1289.7,2811
M1318.3,2793L1310.3,2802L1318.3,2811
M1368,2793L1360,2802L1368,2811
M1396.7,2793L1388.7,2802L1396.7,2811
M1423.5,2793L1415.5,2802L1423.5,2811
M1450,2793L1442,2802L1450,2811
M1474,2793L1466,2802L1474,2811
M1500.7,2793L1492.7,2802L1500.7,2811
M1527.5,2793L1519.5,2802L1527.5,2811
M1554.3,2793L1546.3,2802L1554.3,2811
M1579.2,2793L1571.2,2802L1579.2,2811
M1604,2793L1596,2802L1604,2811
M1657.6,2793L1649.6,2802L1657.6,2811
M1682.5,2793L1674.5,2802L1682.5,2811
M1709.3,2793L1701.3,2802L1709.3,2811
M1736,2793L1728,2802L1736,2811
M1761,2793L1753,2802L1761,2811
M1787.7,2793L1779.7,2802L1787.7,2811
M1814.5,2793L1806.5,2802L1814.5,2811
M1839.4,2793L1831.4,2802L1839.4,2811
M1866.2,2793L1858.2,2802L1866.2,2811
M1893,2793L1885,2802L1893,2811
M1917.9,2793L1909.9,2802L1917.9,2811
M1942.7,2793L1934.7,2802L1942.7,2811
M1969.5,2793L1961.5,2802L1969.5,2811"/>

<line x1="704" y1="2847.5" x2="2134" y2="2847.5" stroke="#000" stroke-width="4.4"/>
<path d="M880.8,2847.5V2859M1163.9,2847.5V2859M1447,2847.5V2859M1730.1,2847.5V2859M2013.2,2847.5V2859" stroke="#333" stroke-width="3.5"/>
<g font-size="36.7" fill="#4d4d4d" text-anchor="middle">
<text x="880.8" y="2894">80700000</text>
<text x="1163.9" y="2894">80710000</text>
<text x="1447" y="2894">80720000</text>
<text x="1730.1" y="2894">80730000</text>
<text x="2013.2" y="2894">80740000</text>
</g>
<text x="1419" y="2946" text-anchor="middle" font-size="45.8" fill="#000">chr8 position (bp)</text>
</svg>
</body>
</html>
